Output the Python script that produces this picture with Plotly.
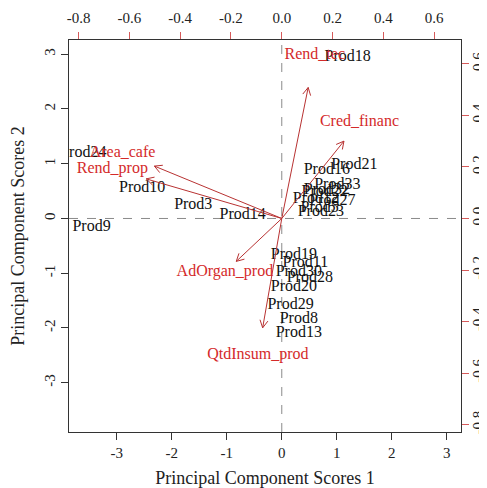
import math
import plotly.graph_objects as go

# ---- data: observation scores (PC1, PC2) ----
obs_labels = ["Prod18", "Prod24", "Prod10", "Prod3", "Prod14", "Prod9",
              "Prod16", "Prod21", "Prod33", "Prod32", "Prod22", "Prod12",
              "Prod27", "Prod5", "Prod23",
              "Prod19", "Prod11", "Prod30", "Prod28", "Prod20", "Prod29",
              "Prod8", "Prod13"]
obs_pc1 = [1.20, -3.61, -2.54, -1.61, -0.71, -3.46,
           0.82, 1.32, 1.01, 0.82, 0.78, 0.62,
           0.92, 0.69, 0.71,
           0.22, 0.43, 0.31, 0.51, 0.22, 0.16,
           0.31, 0.31]
obs_pc2 = [2.95, 1.20, 0.56, 0.25, 0.06, -0.16,
           0.89, 0.98, 0.61, 0.52, 0.48, 0.36,
           0.32, 0.19, 0.12,
           -0.67, -0.81, -0.98, -1.09, -1.25, -1.58,
           -1.84, -2.09]

# ---- data: variable loadings ----
var_labels = ["Rend_tec", "Cred_financ", "Area_cafe", "Rend_prop",
              "AdOrgan_prod", "QtdInsum_prod"]
var_pc1 = [0.130, 0.306, -0.627, -0.667, -0.224, -0.094]
var_pc2 = [0.635, 0.375, 0.254, 0.192, -0.208, -0.530]

x_ticks = [-3, -2, -1, 0, 1, 2, 3]
y_ticks = [-3, -2, -1, 0, 1, 2, 3]
x2_ticks = [-0.8, -0.6, -0.4, -0.2, 0.0, 0.2, 0.4, 0.6]
y2_ticks = [-0.8, -0.6, -0.4, -0.2, 0.0, 0.2, 0.4, 0.6]

x_range = [-3.87, 3.26]
y_range = [-3.90, 3.26]
rx, ry = 4.62, 4.71
x2_range = [x_range[0] / rx, x_range[1] / rx]
y2_range = [y_range[0] / ry, y_range[1] / ry]

W, H = 487, 488
# page adds an 8px body offset; margins compensate for it
ml, mr, mt, mb = 61, 34, 32, 64
pw, ph = W - ml - mr, H - mt - mb
sx2 = pw / (x2_range[1] - x2_range[0])
sy2 = ph / (y2_range[1] - y2_range[0])

FONT = "Liberation Serif, Times New Roman, serif"
RED_TXT = "#d42a2a"
RED_ARR = "#b83232"

fig = go.Figure()

# arrows
head_len = 8.5
ang = math.radians(28)
for lx, ly in zip(var_pc1, var_pc2):
    tx, ty = 0.8 * lx, 0.8 * ly
    fig.add_trace(go.Scatter(x=[0, tx], y=[0, ty], xaxis="x2", yaxis="y2",
                             mode="lines", line=dict(color=RED_ARR, width=1),
                             hoverinfo="skip", showlegend=False))
    dx, dy = tx * sx2, ty * sy2
    th = math.atan2(dy, dx)
    hx, hy = [], []
    for s in (1, -1):
        a = th + math.pi + s * ang
        hx += [tx + head_len * math.cos(a) / sx2, tx, None]
        hy += [ty + head_len * math.sin(a) / sy2, ty, None]
    fig.add_trace(go.Scatter(x=hx, y=hy, xaxis="x2", yaxis="y2",
                             mode="lines", line=dict(color=RED_ARR, width=1),
                             hoverinfo="skip", showlegend=False))

# observation labels
fig.add_trace(go.Scatter(x=obs_pc1, y=obs_pc2, mode="text", text=obs_labels,
                         textposition="middle center",
                         textfont=dict(family=FONT, size=16, color="#111111"),
                         cliponaxis=True, showlegend=False))

# variable labels
fig.add_trace(go.Scatter(x=var_pc1, y=var_pc2, xaxis="x2", yaxis="y2",
                         mode="text", text=var_labels,
                         textposition="middle center",
                         textfont=dict(family=FONT, size=16, color=RED_TXT),
                         cliponaxis=True, showlegend=False))

# dashed reference lines
fig.add_shape(type="line", xref="x", yref="paper", x0=0, x1=0, y0=0, y1=1,
              line=dict(color="#8a8a8a", width=1, dash="dash"), layer="below")
fig.add_shape(type="line", xref="paper", yref="y", x0=0, x1=1, y0=0, y1=0,
              line=dict(color="#8a8a8a", width=1, dash="dash"), layer="below")

tickfont = dict(family=FONT, size=15, color="#222222")
common = dict(showgrid=False, zeroline=False, showline=True, linecolor="#333333",
              linewidth=1, ticks="outside", ticklen=7, tickwidth=1,
              tickfont=tickfont, automargin=False)

fig.update_layout(
    width=W, height=H,
    margin=dict(l=ml, r=mr, t=mt, b=mb, autoexpand=False),
    paper_bgcolor="white", plot_bgcolor="white",
    xaxis=dict(range=x_range, tickvals=x_ticks, ticktext=[str(v) for v in x_ticks],
               tickcolor="#333333", side="bottom",
               title=dict(text="Principal Component Scores 1",
                          font=dict(family=FONT, size=18, color="#222222"),
                          standoff=11),
               **common),
    yaxis=dict(range=y_range, tickvals=y_ticks, ticktext=[str(v) for v in y_ticks],
               tickcolor="#333333", tickangle=-90,
               title=dict(text="Principal Component Scores 2",
                          font=dict(family=FONT, size=18, color="#222222"),
                          standoff=12),
               **common),
    xaxis2=dict(range=x2_range, overlaying="x", side="top",
                tickvals=x2_ticks, ticktext=[f"{v:.1f}" for v in x2_ticks],
                tickcolor="#d65a5a", ticklabelstandoff=3, **common),
    yaxis2=dict(range=y2_range, overlaying="y", side="right", anchor="x",
                tickvals=y2_ticks, ticktext=[f"{v:.1f}" for v in y2_ticks],
                tickcolor="#d65a5a", tickangle=-90, ticklabelstandoff=-4,
                **common),
)

fig.write_html("out.html")
